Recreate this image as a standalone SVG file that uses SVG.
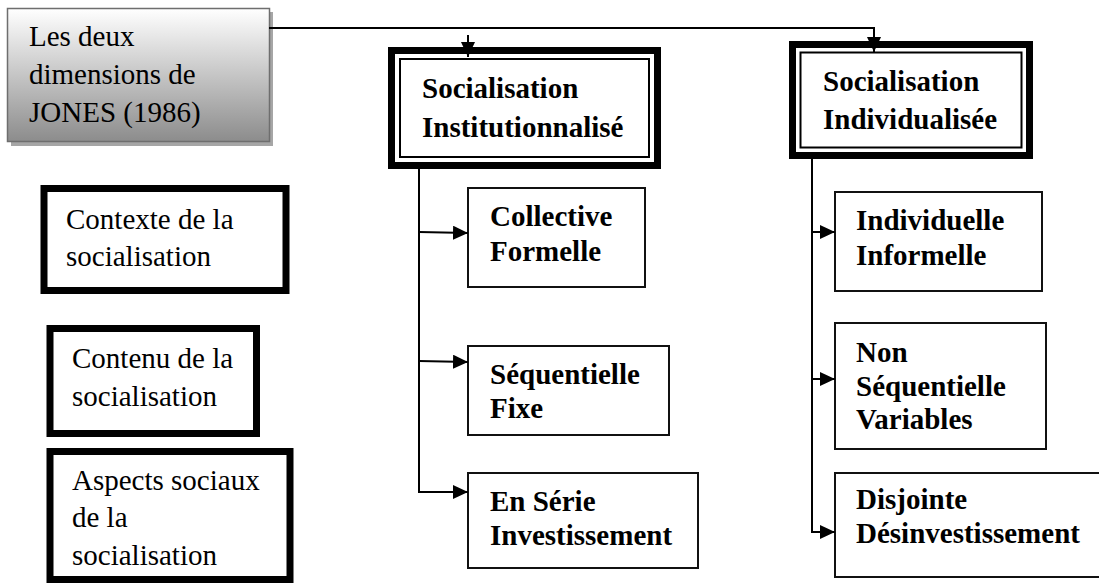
<svg xmlns="http://www.w3.org/2000/svg" width="1099" height="588" viewBox="0 0 1099 588">
<defs>
<linearGradient id="g" x1="0" y1="0" x2="0" y2="1">
<stop offset="0" stop-color="#ffffff"/>
<stop offset="1" stop-color="#8c8c8c"/>
</linearGradient>
<marker id="ah" markerUnits="userSpaceOnUse" markerWidth="16" markerHeight="14" refX="15" refY="7" orient="auto">
<path d="M0,0 L15,7 L0,14 z" fill="#000"/>
</marker>
<style>
.thick{fill:#fff;stroke:#000;stroke-width:7}
.thin{fill:none;stroke:#000;stroke-width:2}
.box{fill:#fff;stroke:#111;stroke-width:2}
.c{fill:none;stroke:#000;stroke-width:2}
</style>
</defs>
<rect width="1099" height="588" fill="#fff"/>
<g font-family="'Liberation Serif', 'Times New Roman', 'DejaVu Serif', serif" font-size="29" fill="#000">
<g id="jones">
<rect x="11" y="12" width="262" height="134" fill="#a6a6a6"/>
<rect x="7.5" y="8.5" width="262" height="133" fill="url(#g)" stroke="#6e6e6e" stroke-width="1.5"/>
<text x="29" y="46">Les deux</text>
<text x="29" y="84">dimensions de</text>
<text x="29" y="122">JONES (1986)</text>
</g>
<g id="contexte">
<rect class="thick" x="44" y="188.5" width="242" height="102"/>
<text x="66" y="229">Contexte de la</text>
<text x="66" y="266">socialisation</text>
</g>
<g id="contenu">
<rect class="thick" x="50" y="328.5" width="206.5" height="105"/>
<text x="72" y="368">Contenu de la</text>
<text x="72" y="406">socialisation</text>
</g>
<g id="aspects">
<rect class="thick" x="50" y="451.5" width="240" height="128"/>
<text x="72" y="490">Aspects sociaux</text>
<text x="72" y="527">de la</text>
<text x="72" y="565">socialisation</text>
</g>
<g font-weight="bold">
<g id="institutionnalise">
<rect class="thick" x="391.5" y="50.5" width="266" height="115"/>
<rect class="thin" x="400" y="59" width="249" height="98"/>
<text x="422" y="98">Socialisation</text>
<text x="422" y="137">Institutionnalisé</text>
</g>
<g id="individualisee">
<rect class="thick" x="792.5" y="44.5" width="237" height="111"/>
<rect class="thin" x="800.5" y="52.5" width="221" height="95"/>
<text x="823" y="91">Socialisation</text>
<text x="823" y="129">Individualisée</text>
</g>
<g id="collective">
<rect class="box" x="468" y="188" width="177" height="99"/>
<text x="490" y="226">Collective</text>
<text x="490" y="261">Formelle</text>
</g>
<g id="sequentielle">
<rect class="box" x="468" y="346" width="201" height="89"/>
<text x="490" y="384">Séquentielle</text>
<text x="490" y="418">Fixe</text>
</g>
<g id="enserie">
<rect class="box" x="468" y="473" width="230" height="95"/>
<text x="490" y="511">En Série</text>
<text x="490" y="545">Investissement</text>
</g>
<g id="individuelle">
<rect class="box" x="835" y="192" width="207" height="99"/>
<text x="856" y="230">Individuelle</text>
<text x="856" y="265">Informelle</text>
</g>
<g id="nonsequentielle">
<rect class="box" x="835" y="323" width="211" height="126"/>
<text x="856" y="362">Non</text>
<text x="856" y="396">Séquentielle</text>
<text x="856" y="429">Variables</text>
</g>
<g id="disjointe">
<rect class="box" x="835" y="473" width="280" height="104"/>
<text x="856" y="509">Disjointe</text>
<text x="856" y="543">Désinvestissement</text>
</g>
</g>
</g>
<g id="connectors">
<polyline class="c" points="269,28 874,28 874,52" marker-end="url(#ah)"/>
<line class="c" x1="468" y1="35" x2="468" y2="57" marker-end="url(#ah)"/>
<polyline class="c" points="419,169 419,492 468,492" marker-end="url(#ah)"/>
<line class="c" x1="419" y1="232" x2="468" y2="233" marker-end="url(#ah)"/>
<line class="c" x1="419" y1="361" x2="468" y2="362" marker-end="url(#ah)"/>
<polyline class="c" points="812,159 812,532 835,532" marker-end="url(#ah)"/>
<line class="c" x1="812" y1="232" x2="835" y2="232" marker-end="url(#ah)"/>
<line class="c" x1="812" y1="379" x2="835" y2="379" marker-end="url(#ah)"/>
</g>
</svg>
